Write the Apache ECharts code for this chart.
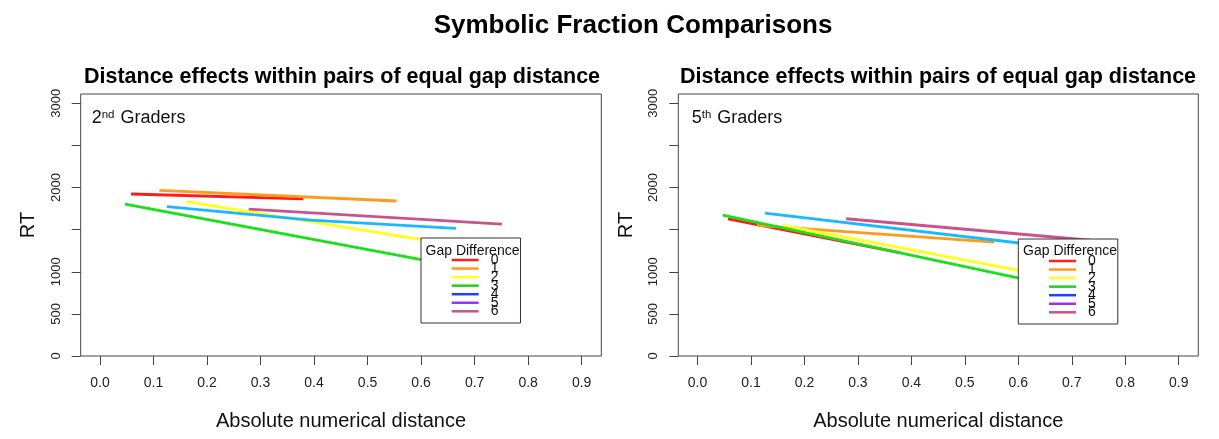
<!DOCTYPE html>
<html>
<head>
<meta charset="utf-8">
<script src="https://cdn.jsdelivr.net/npm/echarts@6/dist/echarts.min.js"></script>
<style>
  html, body { margin: 0; padding: 0; background: #fff; }
  #chart { width: 1219px; height: 439px; }
</style>
</head>
<body>
<div id="chart"></div>
<script>
// Gap difference levels (legend entries)
const gapNames = ['0', '1', '2', '3', '4', '5', '6'];

// Fitted RT lines, [distance, RT] per gap level; level 5 has no line
const grade2Lines = [
  [[0.058, 1923], [0.380, 1864]],
  [[0.111, 1967], [0.554, 1840]],
  [[0.162, 1832], [0.665, 1316]],
  [[0.047, 1804], [0.665, 1066]],
  [[0.125, 1772], [0.394, 1612], [0.665, 1514]],
  [],
  [[0.278, 1744], [0.751, 1566]]
];
const grade5Lines = [
  [[0.057, 1629], [0.380, 1224]],
  [[0.111, 1550], [0.555, 1351]],
  [[0.160, 1550], [0.665, 938]],
  [[0.047, 1673], [0.665, 838]],
  [[0.126, 1697], [0.665, 1294]],
  [],
  [[0.278, 1629], [0.750, 1365]]
];

// Axis ticks
const xTicks = [0, 0.1, 0.2, 0.3, 0.4, 0.5, 0.6, 0.7, 0.8, 0.9];
const yTicks = [0, 500, 1000, 1500, 2000, 2500, 3000];
const yLabels = [0, 500, 1000, 2000, 3000];

const lineColors = ['#ff1a1a', '#ff9a1a', '#ffff1a', '#1adf1a', '#1ab8ff', '#a020f0', '#c8548a'];
const legendColors = ['#ff2020', '#ff9a20', '#ffff20', '#20d020', '#2040ff', '#a030f0', '#c8548a'];

const FONT = "'Liberation Sans', Arial, Helvetica, sans-serif";
const AXIS_COLOR = '#444';

const chart = echarts.init(document.getElementById('chart'));

function mkX(gridIndex) {
  return {
    gridIndex, type: 'value', min: -0.036, max: 0.9367,
    axisLine: { show: false, onZero: false },
    splitLine: { show: false },
    axisTick: { show: true, length: 9, customValues: xTicks, lineStyle: { color: AXIS_COLOR } },
    axisLabel: {
      customValues: xTicks, margin: 20, fontSize: 14, color: '#222', fontFamily: FONT,
      formatter: v => v.toFixed(1)
    },
    name: 'Absolute numerical distance', nameLocation: 'middle', nameGap: 55,
    nameTextStyle: { fontSize: 20, color: '#111', fontFamily: FONT }
  };
}

function mkY(gridIndex) {
  return {
    gridIndex, type: 'value', min: 0, max: 3110,
    axisLine: { show: false, onZero: false },
    splitLine: { show: false },
    axisTick: { show: true, length: 9, customValues: yTicks, lineStyle: { color: AXIS_COLOR } },
    axisLabel: {
      customValues: yLabels, rotate: 90, margin: 18, fontSize: 13, color: '#222', fontFamily: FONT,
      formatter: v => String(v)
    },
    name: 'RT', nameLocation: 'middle', nameGap: 42,
    nameTextStyle: { fontSize: 20, color: '#111', fontFamily: FONT }
  };
}

function mkLegend(left, top) {
  return {
    left, top, orient: 'vertical',
    padding: [15, 22, 4.7, 30.7],
    itemGap: -5.45, itemWidth: 27, itemHeight: 2.5, icon: 'rect',
    selectedMode: false,
    backgroundColor: '#fff', borderColor: '#333', borderWidth: 1, borderRadius: 0,
    textStyle: { fontSize: 14, color: '#111', fontFamily: FONT, padding: [0, 0, 0, 7] },
    data: gapNames.map((n, i) => ({ name: n, itemStyle: { color: legendColors[i] } }))
  };
}

function mkSeries(lines, gridIndex) {
  return lines.map((pts, i) => ({
    name: gapNames[i], type: 'line',
    xAxisIndex: gridIndex, yAxisIndex: gridIndex,
    data: pts, showSymbol: false, symbol: 'none', smooth: false,
    lineStyle: { width: 2.8, color: lineColors[i] },
    itemStyle: { color: lineColors[i] },
    z: 2
  }));
}

function txt(text, left, top, style, align) {
  return {
    text, left, top, padding: 0,
    textAlign: align || 'center', textVerticalAlign: 'middle',
    textStyle: Object.assign({ fontFamily: FONT, color: '#111' }, style)
  };
}

const graderRich = {
  n: { fontSize: 18, fontWeight: 'normal', fontFamily: FONT, color: '#111' },
  s: { fontSize: 11.5, fontWeight: 'normal', fontFamily: FONT, color: '#111', verticalAlign: 'top', padding: [0, 1, 0, 0] }
};

chart.setOption({
  backgroundColor: '#fff',
  animation: false,
  title: [
    txt('Symbolic Fraction Comparisons', 633, 26, { fontSize: 26, fontWeight: 'bold', color: '#000' }),
    txt('Distance effects within pairs of equal gap distance', 342, 77, { fontSize: 21.5, fontWeight: 'bold', color: '#000' }),
    txt('Distance effects within pairs of equal gap distance', 938, 77, { fontSize: 21.5, fontWeight: 'bold', color: '#000' }),
    txt('{n|2}{s|nd}{n| Graders}', 91.7, 118, { fontWeight: 'normal', rich: graderRich }, 'left'),
    txt('{n|5}{s|th}{n| Graders}', 691.7, 118, { fontWeight: 'normal', rich: graderRich }, 'left'),
    txt('Gap Difference', 472.5, 251.5, { fontSize: 14, fontWeight: 'normal' }),
    txt('Gap Difference', 1070, 251.5, { fontSize: 14, fontWeight: 'normal' })
  ],
  grid: [
    { left: 80.7, top: 94, width: 520.6, height: 262, show: true, borderColor: AXIS_COLOR, borderWidth: 1, backgroundColor: 'transparent' },
    { left: 678.3, top: 94, width: 520, height: 262, show: true, borderColor: AXIS_COLOR, borderWidth: 1, backgroundColor: 'transparent' }
  ],
  xAxis: [mkX(0), mkX(1)],
  yAxis: [mkY(0), mkY(1)],
  legend: [mkLegend(421, 238), mkLegend(1018.3, 239)],
  series: mkSeries(grade2Lines, 0).concat(mkSeries(grade5Lines, 1))
});
</script>
</body>
</html>
